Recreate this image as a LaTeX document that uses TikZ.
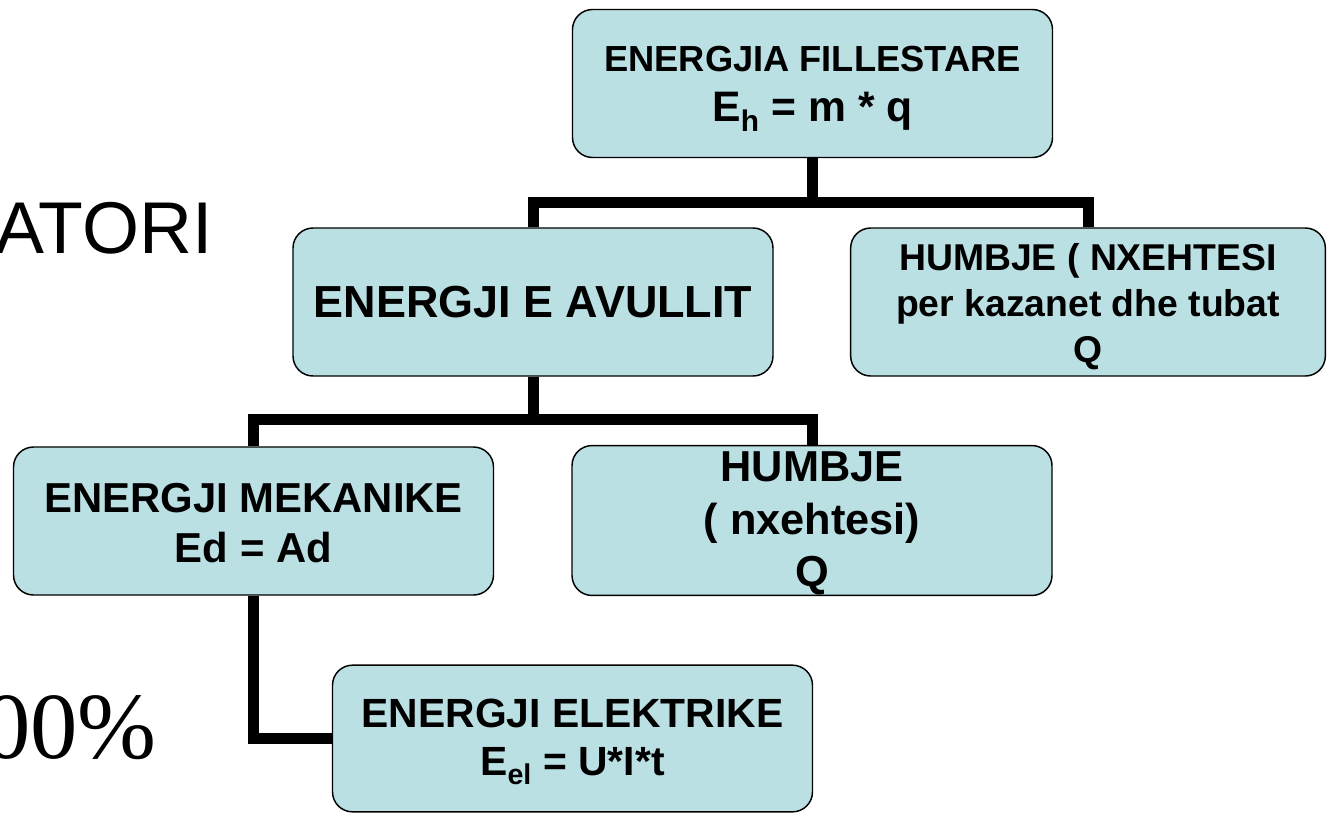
\documentclass[tikz,border=0pt]{standalone}
\usepackage{fontspec}
\setmainfont{Liberation Sans}
\newfontfamily\timesfont{Liberation Serif}
\usetikzlibrary{positioning}
\definecolor{boxfill}{RGB}{187,224,228}
\tikzset{
    ebox/.style={draw=black, line width=1.1pt, fill=boxfill, rounded corners=15pt,
        align=center, inner sep=0pt, minimum width=360pt, minimum height=111pt},
    conn/.style={line width=8.25pt, draw=black},
}

\begin{document}
\begin{tikzpicture}[x=0.75pt, y=-0.75pt]
            \useasboundingbox (0,0) rectangle (1327,815);

            % Cut-off slide text on the left
            \node[anchor=base east, inner sep=0pt, font=\fontsize{55pt}{60pt}\selectfont] (gentext) at (213,253) {ATORI};
            \node[anchor=base east, inner sep=0pt, font=\timesfont\fontsize{71pt}{80pt}\selectfont] (pcttext) at (157,758) {00\%};

            % Energy boxes
            \node[ebox, font=\bfseries\fontsize{27.2pt}{38pt}\selectfont] (fillestare) at (812.5,83.5)
                {\rule{0pt}{27pt}ENERGJIA FILLESTARE\\{\fontsize{32pt}{38pt}\selectfont E\textsubscript{h} = m * q}};
            \node[ebox, font=\bfseries\fontsize{33.7pt}{40pt}\selectfont] (avullit) at (533,302) {ENERGJI E AVULLIT};
            \node[ebox, minimum width=356pt, font=\bfseries\fontsize{28pt}{34.5pt}\selectfont] (humbjekazan) at (1088,302)
                {\rule{0pt}{27pt}HUMBJE ( NXEHTESI\\per kazanet dhe tubat\\Q};
            \node[ebox, font=\bfseries\fontsize{31.4pt}{37pt}\selectfont] (mekanike) at (253.5,521)
                {\rule{0pt}{25pt}ENERGJI MEKANIKE\\Ed = Ad};
            \node[ebox, font=\bfseries\fontsize{32.5pt}{39.5pt}\selectfont] (humbjenxeh) at (812,520.5)
                {\rule{0pt}{27pt}HUMBJE\\( nxehtesi)\\Q};
            \node[ebox, minimum height=110pt, font=\bfseries\fontsize{30.6pt}{36pt}\selectfont] (elektrike) at (572.5,738.5)
                {\rule{0pt}{26pt}ENERGJI ELEKTRIKE\\E\textsubscript{el} = U*I*t};

            % Connectors
            \path (fillestare.south) ++(0,44) coordinate (fork1);
            \path (avullit.south) ++(0,43) coordinate (fork2);
            \draw[conn] (fillestare.south) -- (fork1);
            \draw[conn] (avullit.north) |- (fork1) -| (humbjekazan.north);
            \draw[conn] (avullit.south) -- (fork2);
            \draw[conn] (mekanike.north) |- (fork2) -| (humbjenxeh.north);
            \draw[conn] (mekanike.south) |- (elektrike.west);

        \end{tikzpicture}
\end{document}
